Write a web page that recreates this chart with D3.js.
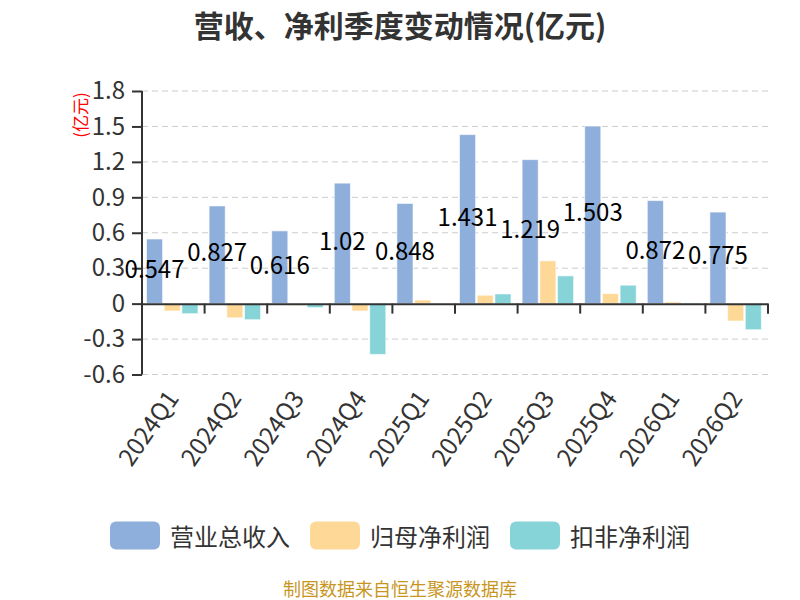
<!DOCTYPE html>
<html lang="zh">
<head>
<meta charset="UTF-8">
<title>营收、净利季度变动情况</title>
<style>
    body { margin: 0; background: #fff; overflow: hidden; }
    svg { display: block; }
    text { font-family: "Noto Sans CJK SC", "Noto Sans", sans-serif; }
</style>
</head>
<body>
<svg id="chart"></svg>
<script src="https://cdn.jsdelivr.net/npm/d3@7/dist/d3.min.js"></script>
<script>
    // data (亿元)
    const quarters = ["2024Q1", "2024Q2", "2024Q3", "2024Q4", "2025Q1", "2025Q2", "2025Q3", "2025Q4", "2026Q1", "2026Q2"];
    const revenue = [0.547, 0.827, 0.616, 1.02, 0.848, 1.431, 1.219, 1.503, 0.872, 0.775];
    const netProfit = [-0.062, -0.12, -0.014, -0.062, 0.031, 0.071, 0.362, 0.085, 0.014, -0.147];
    const deductedProfit = [-0.085, -0.136, -0.034, -0.43, 0.003, 0.082, 0.235, 0.156, 0.006, -0.221];
    const seriesNames = ["营业总收入", "归母净利润", "扣非净利润"];
    const yTicks = [-0.6, -0.3, 0, 0.3, 0.6, 0.9, 1.2, 1.5, 1.8];

    const colors = ["#8eaedb", "#fed897", "#86d4d8"];
    const width = 800, height = 600;
    const plotLeft = 142, plotRight = 768, plotTop = 91, plotBottom = 374.5;

    const svg = d3.select("#chart").attr("width", width).attr("height", height);

    const x = d3.scaleBand().domain(quarters).range([plotLeft, plotRight]);
    const xs = d3.scaleBand().domain(seriesNames).range([4.5, 56]).paddingInner(0.09);
    const y = d3.scaleLinear().domain([-0.6, 1.8]).range([plotBottom, plotTop]);

    // title
    svg.append("text")
        .attr("x", 400).attr("y", 24)
        .attr("text-anchor", "middle").attr("dominant-baseline", "central")
        .attr("font-size", 30).attr("font-weight", "bold").attr("fill", "#333")
        .text("营收、净利季度变动情况(亿元)");

    // unit label
    svg.append("text")
        .attr("transform", "translate(79,115) rotate(-90)")
        .attr("text-anchor", "middle").attr("dominant-baseline", "central")
        .attr("font-size", 17).attr("fill", "#f00")
        .text("(亿元)");

    // grid
    svg.append("g")
        .selectAll("line")
        .data(yTicks.filter(d => d !== 0))
        .join("line")
        .attr("x1", plotLeft).attr("x2", plotRight)
        .attr("y1", d => y(d)).attr("y2", d => y(d))
        .attr("stroke", "#ccc").attr("stroke-dasharray", "6,4");

    // y axis
    const yAxis = svg.append("g")
        .attr("transform", `translate(${plotLeft},0)`)
        .call(d3.axisLeft(y).tickValues(yTicks).tickSize(10).tickPadding(7).tickFormat(d => String(+d.toFixed(1))));
    yAxis.select(".domain").attr("stroke", "#333").attr("stroke-width", 2).attr("d", `M0,${plotTop}V${plotBottom}`);
    yAxis.selectAll(".tick line").attr("stroke", "#333").attr("stroke-width", 2);
    yAxis.selectAll(".tick text").attr("font-size", 24).attr("fill", "#333").attr("font-family", "Noto Sans CJK SC");

    // bars
    const rows = quarters.map((q, i) => ({ q, vals: [revenue[i], netProfit[i], deductedProfit[i]] }));
    const groups = svg.append("g").selectAll("g")
        .data(rows)
        .join("g")
        .attr("transform", d => `translate(${x(d.q)},0)`);

    groups.selectAll("rect")
        .data(d => d.vals.map((v, k) => ({ v, k })))
        .join("rect")
        .attr("x", d => xs(seriesNames[d.k]))
        .attr("width", xs.bandwidth())
        .attr("y", d => y(Math.max(0, d.v)))
        .attr("height", d => Math.abs(y(d.v) - y(0)))
        .attr("fill", d => colors[d.k])
        .attr("stroke", "#fff").attr("stroke-opacity", 0.6);

    // zero axis line with ticks
    const xAxis = svg.append("g")
        .attr("transform", `translate(0,${y(0)})`)
        .call(d3.axisBottom(x).tickSize(0).tickFormat(""));
    xAxis.select(".domain").attr("stroke", "#333").attr("stroke-width", 2);
    xAxis.selectAll(".tick").remove();
    xAxis.selectAll("line.cat")
        .data(quarters.slice(1).map(q => x(q)).concat([plotRight]))
        .join("line")
        .attr("class", "cat")
        .attr("x1", d => d).attr("x2", d => d)
        .attr("y1", 0).attr("y2", 10)
        .attr("stroke", "#333").attr("stroke-width", 2);

    // category labels
    svg.append("g").selectAll("text")
        .data(quarters)
        .join("text")
        .attr("transform", d => `translate(${x(d) + x.bandwidth() / 2 - 2},${plotBottom + 18}) rotate(-55)`)
        .attr("text-anchor", "end").attr("dominant-baseline", "central")
        .attr("font-size", 24).attr("fill", "#333")
        .text(d => d);

    // revenue value labels
    svg.append("g").selectAll("text")
        .data(rows)
        .join("text")
        .attr("x", d => x(d.q) + xs(seriesNames[0]) + xs.bandwidth() / 2)
        .attr("y", d => (y(d.vals[0]) + y(0)) / 2 - 4)
        .attr("text-anchor", "middle").attr("dominant-baseline", "central")
        .attr("font-size", 24).attr("fill", "#000")
        .text(d => d.vals[0]);

    // legend
    const legendX = [110, 310, 510];
    const legend = svg.append("g").selectAll("g")
        .data(seriesNames)
        .join("g")
        .attr("transform", (d, i) => `translate(${legendX[i]},521.5)`);
    legend.append("rect")
        .attr("width", 50).attr("height", 28).attr("rx", 6)
        .attr("fill", (d, i) => colors[i]);
    legend.append("text")
        .attr("x", 60).attr("y", 14)
        .attr("dominant-baseline", "central")
        .attr("font-size", 24).attr("fill", "#333")
        .text(d => d);

    // source note
    svg.append("text")
        .attr("x", 400).attr("y", 588)
        .attr("text-anchor", "middle").attr("dominant-baseline", "central")
        .attr("font-size", 18).attr("fill", "#c8961f")
        .text("制图数据来自恒生聚源数据库");
</script>
</body>
</html>
